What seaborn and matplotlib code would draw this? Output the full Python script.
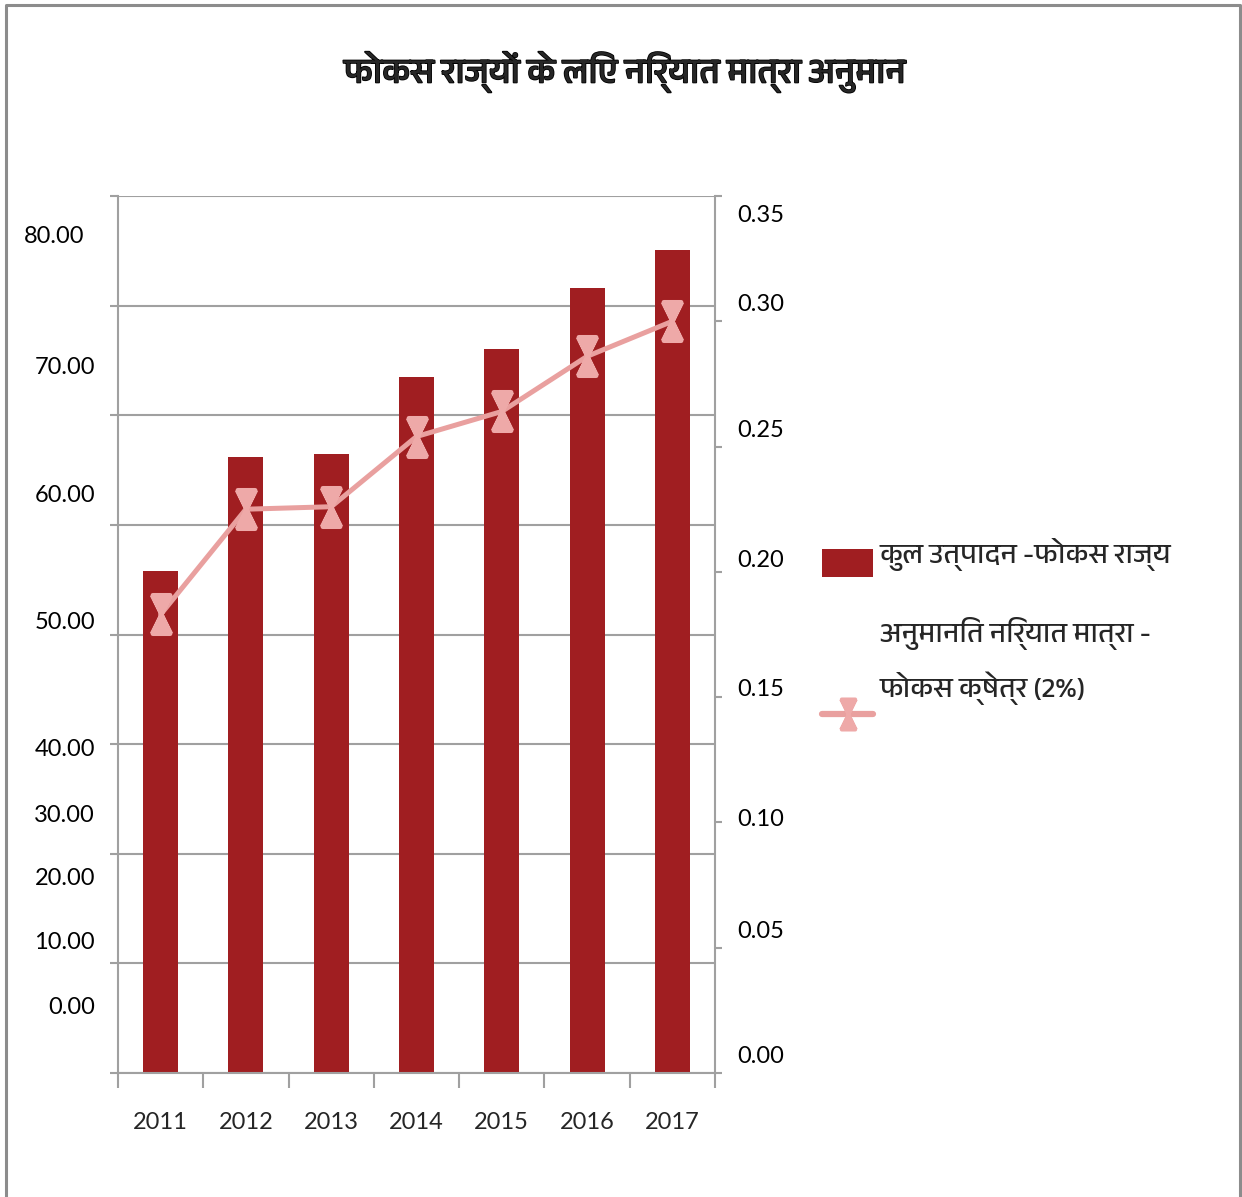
import numpy as np
import pandas as pd
import matplotlib
matplotlib.use("Agg")
import matplotlib.pyplot as plt
import matplotlib.patheffects as pe
from matplotlib import font_manager
from matplotlib.path import Path
from matplotlib.lines import Line2D
from matplotlib.patches import Rectangle
import seaborn as sns

# ---------------- data ----------------
years = ["2011", "2012", "2013", "2014", "2015", "2016", "2017"]
total_production = [45.8, 56.2, 56.5, 63.5, 66.0, 71.6, 75.1]
export_estimate = [0.183, 0.225, 0.226, 0.254, 0.264, 0.286, 0.300]

left_tick_labels = ["80.00", "70.00", "60.00", "50.00", "40.00",
                    "30.00", "20.00", "10.00", "0.00"]
right_tick_labels = ["0.35", "0.30", "0.25", "0.20", "0.15", "0.10", "0.05", "0.00"]

title_text = "फोकस राज्यों के लिए निर्यात मात्रा अनुमान"
bar_label = "कुल उत्पादन -फोकस राज्य"
line_label_top = "अनुमानित निर्यात मात्रा -"
line_label_bottom = "फोकस क्षेत्र (2%)"

# ---------------- layout ----------------
# heights at which the axis labels sit (in each axis' own units)
left_label_y = [76.26, 64.4, 52.7, 41.05, 29.47, 23.5, 17.7, 11.86, 6.02]
left_label_x = [-0.057, -0.0385, -0.0385, -0.0385, -0.0385, -0.0385, -0.0385, -0.0385, -0.0385]
right_label_y = [0.3424, 0.3065, 0.2566, 0.2047, 0.1529, 0.1010, 0.0563, 0.0064]

BAR_COLOR = "#a01e21"
LINE_COLOR = "#e9a09f"
MARK_COLOR = "#eea9a8"
GRID_COLOR = "#a0a0a0"
W, H = 1242, 1197


def devanagari_family():
    """Pick an installed family that covers Devanagari."""
    try:
        from fontTools.ttLib import TTFont
    except Exception:
        return None
    found = []
    for entry in font_manager.fontManager.ttflist:
        try:
            tt = TTFont(entry.fname, fontNumber=0, lazy=True)
            cmap = tt.getBestCmap() or {}
        except Exception:
            continue
        if 0x0915 in cmap and entry.name not in found:
            found.append(entry.name)
    found.sort(key=lambda n: (0 if "devanagari" in n.lower() else 1, n))
    return found[0] if found else None


sns.set_style("white")
deva = devanagari_family()
text_families = ([deva] if deva else []) + ["Lato", "DejaVu Sans"]
num_families = ["Lato", "DejaVu Sans"]
plt.rcParams["font.family"] = text_families

fig = plt.figure(figsize=(W / 100, H / 100), dpi=100)

# plot area in pixel terms
x0, x1, ytop, ybot = 118, 715, 196, 1073
ax = fig.add_axes([x0 / W, 1 - ybot / H, (x1 - x0) / W, (ybot - ytop) / H])

df = pd.DataFrame({"year": years, "production": total_production})
sns.barplot(data=df, x="year", y="production", color=BAR_COLOR, saturation=1,
            width=0.41, linewidth=0, ax=ax, zorder=2)

ax.set_xlim(-0.5, len(years) - 0.5)
ax.set_ylim(0, 80)
ax.set_xlabel("")
ax.set_ylabel("")

# horizontal grid and left ticks
ax.set_yticks(np.arange(0, 81, 10))
ax.set_yticklabels([])
ax.yaxis.grid(True, color=GRID_COLOR, linewidth=1.5)
ax.xaxis.grid(False)
ax.set_axisbelow(True)
ax.tick_params(axis="y", which="major", left=True, direction="out",
               length=6, width=1.5, color=GRID_COLOR)

# category boundary ticks with year labels between them
ax.set_xticks(np.arange(-0.5, len(years), 1))
ax.set_xticklabels([])
ax.set_xticks(np.arange(len(years)), minor=True)
ax.set_xticklabels(years, minor=True, fontsize=17, family=num_families)
ax.tick_params(axis="x", which="major", bottom=True, direction="out",
               length=11, width=1.5, color=GRID_COLOR)
ax.tick_params(axis="x", which="minor", bottom=True, length=0, pad=28)

for side in ["top", "right"]:
    ax.spines[side].set_visible(False)
for side in ["left", "bottom"]:
    ax.spines[side].set_color(GRID_COLOR)
    ax.spines[side].set_linewidth(1.5)

# secondary axis for export estimate
ax2 = ax.twinx()
xpos = np.arange(len(years))
# star marker: filled hourglass wedges crossed by an X and a vertical stroke
star = Path([(-0.45, 1), (0.45, 1), (0, 0), (-0.45, 1),
             (-0.45, -1), (0.45, -1), (0, 0), (-0.45, -1),
             (-0.5, -1), (0.5, 1), (-0.5, 1), (0.5, -1), (0, -1), (0, 1)],
            [Path.MOVETO, Path.LINETO, Path.LINETO, Path.CLOSEPOLY,
             Path.MOVETO, Path.LINETO, Path.LINETO, Path.CLOSEPOLY,
             Path.MOVETO, Path.LINETO, Path.MOVETO, Path.LINETO, Path.MOVETO, Path.LINETO])
sns.lineplot(x=xpos, y=export_estimate, ax=ax2, color=LINE_COLOR, linewidth=3.6,
             marker=star, markersize=28, markeredgewidth=3.0,
             markeredgecolor=MARK_COLOR, markerfacecolor=MARK_COLOR, zorder=3)
ax2.set_ylim(0, 0.35)
ax2.set_yticks(np.arange(0, 0.351, 0.05))
ax2.set_yticklabels([])
ax2.set_ylabel("")
ax2.grid(False)
ax2.tick_params(axis="y", which="major", right=True, direction="out",
                length=5, width=1.5, color=GRID_COLOR)
for side in ["top", "left", "bottom"]:
    ax2.spines[side].set_visible(False)
ax2.spines["right"].set_color(GRID_COLOR)
ax2.spines["right"].set_linewidth(1.5)

# axis value labels
for lbl, yv, xv in zip(left_tick_labels, left_label_y, left_label_x):
    ax.text(xv, yv, lbl, transform=ax.get_yaxis_transform(), ha="right",
            va="center", fontsize=17, family=num_families, color="#000000")
for lbl, yv in zip(right_tick_labels, right_label_y):
    ax2.text(1.037, yv, lbl, transform=ax2.get_yaxis_transform(), ha="left",
             va="center", fontsize=17, family=num_families, color="#000000")

# title (heavy weight)
fig.text(625 / W, 1 - 72 / H, title_text, ha="center", va="center",
         fontsize=25, fontweight="bold", family=text_families,
         path_effects=[pe.withStroke(linewidth=1.2, foreground="black")])

# legend
fig.patches.append(Rectangle((822 / W, 1 - 577 / H), 51 / W, 28 / H,
                             transform=fig.transFigure, facecolor=BAR_COLOR,
                             edgecolor="none"))
fig.text(880 / W, 1 - 555 / H, bar_label, ha="left", va="center", fontsize=20.5,
         family=text_families)
fig.text(880 / W, 1 - 633 / H, line_label_top, ha="left", va="center", fontsize=20.5,
         family=text_families)
fig.text(880 / W, 1 - 688 / H, line_label_bottom, ha="left", va="center", fontsize=20.5,
         family=text_families)
fig.lines.append(Line2D([822 / W, 873 / W], [1 - 714 / H, 1 - 714 / H],
                        transform=fig.transFigure, color=LINE_COLOR, linewidth=4.5))
fig.lines.append(Line2D([848 / W], [1 - 714 / H], transform=fig.transFigure,
                        marker=star, markersize=22, markeredgewidth=2.5,
                        color=MARK_COLOR, linestyle="none"))

# outer frame (open at the bottom edge)
fx0, fx1, fy1 = 6 / W, 1240 / W, 1 - 5 / H
fig.lines.append(Line2D([fx0, fx0, fx1, fx1], [-0.01, fy1, fy1, -0.01],
                        transform=fig.transFigure, color="#8c8c8c", linewidth=2.2))

fig.savefig("out.png", dpi=100)
